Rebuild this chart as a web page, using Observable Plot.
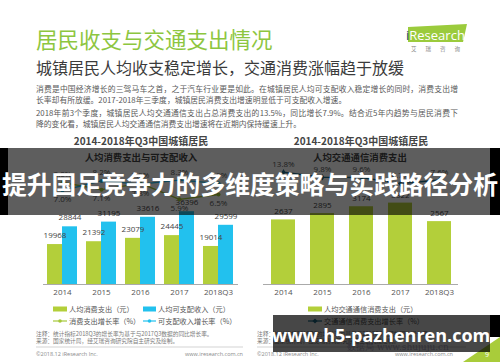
<!DOCTYPE html>
<html><head><meta charset="utf-8">
<script src="https://cdn.jsdelivr.net/npm/d3@7"></script>
<script src="https://cdn.jsdelivr.net/npm/@observablehq/plot@0.6"></script>
<style>
html,body{margin:0;padding:0;background:#fff;}
#root{position:relative;width:500px;height:362px;overflow:hidden;background:#fff;font-family:"Noto Sans CJK SC","Noto Sans",sans-serif;}
.a{position:absolute;white-space:nowrap;line-height:1.2;}
.abs{position:absolute;}
</style></head><body>
<div id="root"></div>
<script>
// ---------- data ----------
const years = ["2014", "2015", "2016", "2017", "2018Q3"];
const consumption = [19968, 21392, 23079, 24445, 19014];        // 人均消费支出（元）
const income = [28844, 31195, 33616, 36396, 29599];             // 人均可支配收入（元）
const consumptionGrowth = [8.0, 7.1, 7.9, 5.9, 6.5];            // 消费支出增长率（%）
const incomeGrowth = [7.0, 8.2, 7.8, 8.3, 7.9];                 // 可支配收入增长率（%）
const transport = [2637, 2895, 3174, 3322, 2567];               // 人均交通通信消费支出（元）
const transportGrowth = [13.8, 9.8, 9.6, 4.7, 7.6];             // 交通通信消费支出增长率（%）

const GREEN = "#b3cf3a", BLUE = "#22c1ee", TEAL = "#1f6f8d", LGREEN = "#a6c839";
const root = document.getElementById("root");

function T(text, x, y, css, anchor) {
  const d = document.createElement("div");
  d.className = "a";
  d.textContent = text;
  d.style.left = x + "px";
  d.style.top = y + "px";
  const tx = anchor === "middle" ? "-50%" : anchor === "end" ? "-100%" : "0";
  d.style.transform = `translate(${tx},-50%)`;
  d.style.cssText += css || "";
  root.appendChild(d);
  return d;
}
function place(node, x, y) {
  node.style.position = "absolute";
  node.style.left = x + "px";
  node.style.top = y + "px";
  root.appendChild(node);
}

// ---------- header ----------
T("居民收支与交通支出情况", 36, 39, "font-size:21.5px;color:#8dc63f;");
T("城镇居民人均收支稳定增长，交通消费涨幅趋于放缓", 36, 67.5, "font-size:16px;color:#3b3b3b;");
const para = [
  ["消费是中国经济增长的三驾马车之首，之于汽车行业更是如此。在城镇居民人均可支配收入稳定增长的同时，消费支出增", 89, true],
  ["长率却有所放缓。2017-2018年三季度，城镇居民消费支出增速明显低于可支配收入增速。", 100, false],
  ["2018年前3个季度，城镇居民人均交通通信支出占总消费支出的13.5%，同比增长7.9%。结合近5年内趋势与居民消费下", 113, true],
  ["降的变化看，城镇居民人均交通通信消费支出增速将在近期内保持缓速上升。", 123.5, false]
];
for (const [t, y, full] of para) {
  T(t, 36, y, "font-size:7.8px;color:#595959;" + (full ? "width:422px;text-align:justify;text-align-last:justify;white-space:normal;" : ""));
}

// logo and decorations
const NS = "http://www.w3.org/2000/svg";
const deco = document.createElementNS(NS, "svg");
deco.setAttribute("width", 500); deco.setAttribute("height", 362);
deco.style.position = "absolute"; deco.style.left = "0"; deco.style.top = "0";
deco.innerHTML = `
  <polygon points="408,27 467,24 463,42 408,42" fill="#9bcb3c"/>
  <text x="406" y="40" font-family="'Open Sans',sans-serif" font-size="13" fill="#fff"><tspan fill="#1c3f73">i</tspan>Research</text>
  <text x="411" y="51" font-family="'Noto Sans CJK SC'" font-size="5.5" fill="#888" letter-spacing="9">艾瑞咨询</text>
  <rect x="53" y="306.5" width="14" height="5" fill="${GREEN}"/>
  <rect x="143" y="306.5" width="13" height="5" fill="${BLUE}"/>
  <line x1="53" x2="67" y1="321" y2="321" stroke="${LGREEN}" stroke-width="1.2"/>
  <circle cx="60" cy="321" r="1.8" fill="${LGREEN}"/>
  <line x1="143" x2="156" y1="321" y2="321" stroke="${BLUE}" stroke-width="1.2"/>
  <circle cx="149.5" cy="321" r="1.8" fill="${BLUE}"/>
  <rect x="308" y="306.5" width="14" height="5" fill="${GREEN}"/>
  <line x1="308" x2="322" y1="321" y2="321" stroke="${TEAL}" stroke-width="1.2"/>
  <rect x="313.2" y="319.2" width="3.6" height="3.6" fill="${TEAL}" transform="rotate(45 315 321)"/>
  <line x1="36" x2="243" y1="347" y2="347" stroke="#c8c8c8" stroke-width="0.8"/>
  <line x1="257" x2="466" y1="347" y2="347" stroke="#c8c8c8" stroke-width="0.8"/>
  <polygon points="463,362 500,362 500,337" fill="#a9cc3a"/>
`;
root.appendChild(deco);

// chart titles
T("2014-2018年Q3中国城镇居民", 141, 141, "font-size:10px;font-weight:700;color:#444;", "middle");
T("人均消费支出与可支配收入", 141, 158, "font-size:9.4px;font-weight:700;color:#444;", "middle");
T("2014-2018年Q3中国城镇居民", 361, 141, "font-size:10px;font-weight:700;color:#444;", "middle");
T("人均交通通信消费支出", 360, 158, "font-size:9.4px;font-weight:700;color:#444;", "middle");

// legend texts
const LG = "font-size:7.2px;color:#555;";
T("人均消费支出（元）", 69, 309, LG);
T("人均可支配收入（元）", 158, 309, LG);
T("消费支出增长率（%）", 69, 321, LG);
T("可支配收入增长率（%）", 158, 321, LG);
T("人均交通通信消费支出（元）", 324, 309, LG);
T("交通通信消费支出增长率（%）", 324, 321, LG);

// notes & footers
const NT = "font-size:5.7px;color:#7a7a7a;";
for (const x0 of [36, 257]) {
  T("注释：统计指标2018Q3的增长率为基于与2017Q3数据的同比增长率。", x0, 334, NT);
  T("来源：国家统计局，经艾瑞咨询研究院自主研究及绘制。", x0, 341, NT);
  T("©2018.12 iResearch Inc.", x0, 353.5, "font-size:5.5px;color:#8a8a8a;font-family:'Open Sans',sans-serif;");
}
T("www.iresearch.com.cn", 243, 353.5, "font-size:5.5px;color:#8a8a8a;font-family:'Open Sans',sans-serif;", "end");
T("www.iresearch.com.cn", 453, 353.5, "font-size:5.5px;color:#8a8a8a;font-family:'Open Sans',sans-serif;", "end");

// ---------- charts ----------
const leftRows = years.map((y, i) => ({year: y, consumption: consumption[i], income: income[i], cg: consumptionGrowth[i], ig: incomeGrowth[i]}));
const rightRows = years.map((y, i) => ({year: y, value: transport[i], g: transportGrowth[i]}));
const fontStyle = {background: "transparent", fontFamily: "'Open Sans','Noto Sans',sans-serif", fontSize: "8px", color: "#555", overflow: "visible"};

const leftBars = Plot.plot({
  width: 250, height: 150, marginLeft: 43, marginRight: 12, marginTop: 44, marginBottom: 26,
  style: fontStyle,
  x: {domain: years, type: "band", paddingInner: 0.23, paddingOuter: 0.115, label: null, tickSize: 0, tickPadding: 5},
  y: {domain: [0, 40000], axis: null},
  marks: [
    Plot.barY(leftRows, {x: "year", y: "consumption", fill: GREEN, insetRight: 15}),
    Plot.barY(leftRows, {x: "year", y: "income", fill: BLUE, insetLeft: 15}),
    Plot.ruleY([0], {stroke: "#aaa", strokeWidth: 1}),
    Plot.text(leftRows, {x: "year", y: "consumption", text: d => String(d.consumption), dx: -7.5, dy: -9, fill: "#444", fontSize: 8}),
    Plot.text(leftRows, {x: "year", y: "income", text: d => String(d.income), dx: 7.5, dy: -9, fill: "#444", fontSize: 8})
  ]
});
place(leftBars, 0, 160);

const leftLines = Plot.plot({
  width: 250, height: 60, marginLeft: 43, marginRight: 12, marginTop: 0, marginBottom: 0,
  style: fontStyle,
  x: {domain: years, type: "band", paddingInner: 0.23, paddingOuter: 0.115, axis: null},
  y: {domain: [3.25, 10.75], axis: null},
  marks: [
    Plot.lineY(leftRows, {x: "year", y: "cg", stroke: LGREEN, strokeWidth: 1.3}),
    Plot.dot(leftRows, {x: "year", y: "cg", fill: LGREEN, r: 2}),
    Plot.lineY(leftRows, {x: "year", y: "ig", stroke: BLUE, strokeWidth: 1.3}),
    Plot.dot(leftRows, {x: "year", y: "ig", fill: BLUE, r: 2}),
    Plot.text(leftRows.filter(d => d.cg >= d.ig), {x: "year", y: "cg", text: d => d.cg.toFixed(1) + "%", dy: -8, fill: "#555", fontSize: 8}),
    Plot.text(leftRows.filter(d => d.cg < d.ig), {x: "year", y: "cg", text: d => d.cg.toFixed(1) + "%", dy: 9, fill: "#555", fontSize: 8}),
    Plot.text(leftRows.filter(d => d.ig > d.cg), {x: "year", y: "ig", text: d => d.ig.toFixed(1) + "%", dy: -8, fill: "#555", fontSize: 8}),
    Plot.text(leftRows.filter(d => d.ig <= d.cg), {x: "year", y: "ig", text: d => d.ig.toFixed(1) + "%", dy: 9, fill: "#555", fontSize: 8})
  ]
});
place(leftLines, 0, 160);

const rightBars = Plot.plot({
  width: 250, height: 150, marginLeft: 13, marginRight: 42, marginTop: 26, marginBottom: 26,
  style: fontStyle,
  x: {domain: years, type: "band", paddingInner: 0.385, paddingOuter: 0.1925, label: null, tickSize: 0, tickPadding: 5},
  y: {domain: [0, 4000], axis: null},
  marks: [
    Plot.barY(rightRows, {x: "year", y: "value", fill: GREEN}),
    Plot.ruleY([0], {stroke: "#aaa", strokeWidth: 1}),
    Plot.text(rightRows, {x: "year", y: "value", text: d => String(d.value), dy: -8, fill: "#444", fontSize: 8})
  ]
});
place(rightBars, 250, 160);

const rightLines = Plot.plot({
  width: 250, height: 60, marginLeft: 13, marginRight: 42, marginTop: 0, marginBottom: 0,
  style: fontStyle,
  x: {domain: years, type: "band", paddingInner: 0.385, paddingOuter: 0.1925, axis: null},
  y: {domain: [-24.8, 23.2], axis: null},
  marks: [
    Plot.lineY(rightRows, {x: "year", y: "g", stroke: TEAL, strokeWidth: 1.3}),
    Plot.dot(rightRows, {x: "year", y: "g", fill: TEAL, r: 2, symbol: "diamond"}),
    Plot.text(rightRows, {x: "year", y: "g", text: d => d.g.toFixed(1) + "%", dy: -8, fill: "#555", fontSize: 8})
  ]
});
place(rightLines, 250, 160);

// ---------- overlays ----------
function R(x, y, w, h, bg) {
  const d = document.createElement("div");
  d.className = "abs";
  d.style.cssText += `left:${x}px;top:${y}px;width:${w}px;height:${h}px;background:${bg};`;
  root.appendChild(d);
  return d;
}
T("数据局 www.shujuju.cn", 398, 347, "font-size:9px;color:rgba(120,110,170,0.55);font-family:'DejaVu Serif',serif;", "middle");
R(8, 148, 482, 67, "rgba(0,0,0,0.63)");
R(0, 148, 8, 67, "#000");
R(490, 148, 10, 67, "#000");
T("提升国足竞争力的多维度策略与实践路径分析", 250, 184, "font-size:24.8px;font-weight:700;color:#fff;font-family:'Noto Sans CJK SC',sans-serif;", "middle");
R(273, 315, 217, 37, "rgba(0,0,0,0.72)");
R(490, 315, 10, 22, "#000");
T("www.h5-pazhenren.com", 381, 336, "font-size:18px;font-weight:700;color:#fff;font-family:'Open Sans',sans-serif;", "middle");
T("9", 487, 355, "font-size:7px;color:#fff;font-family:'Open Sans',sans-serif;", "middle");
</script>
</body></html>
